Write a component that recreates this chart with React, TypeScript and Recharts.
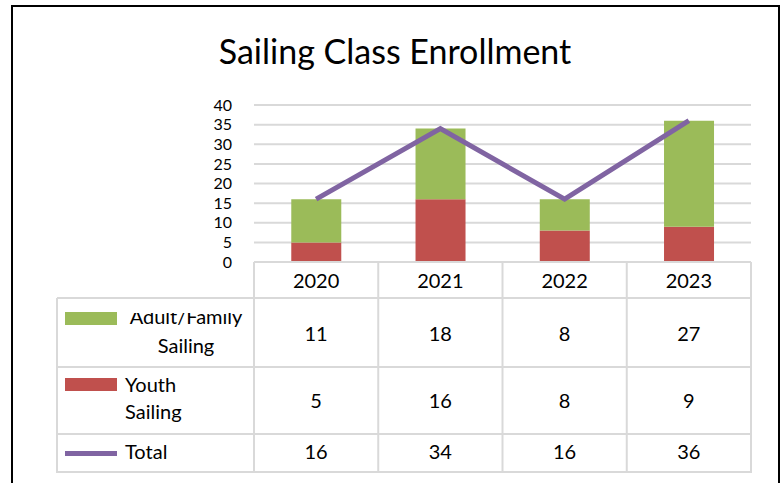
import { Bar, CartesianGrid, ComposedChart, Line, XAxis, YAxis } from 'recharts'

const years = ['2020', '2021', '2022', '2023']
const adultFamily = [11, 18, 8, 27]
const youthSailing = [5, 16, 8, 9]
const totals = [16, 34, 16, 36]
const yTicks = [0, 5, 10, 15, 20, 25, 30, 35, 40]

const data = years.map((year, i) => ({
  year,
  adult: adultFamily[i],
  youth: youthSailing[i],
  total: totals[i],
}))

const FONT = 'Lato, "Open Sans", sans-serif'
const GRID = '#D9D9D9'
const GREEN = '#9BBB59'
const RED = '#C0504D'
const PURPLE = '#8064A2'

const W = 781
const H = 483
const TABLE_LEFT = 57
// row boundaries below the axis line
const ROW_LINES = [36, 105, 172, 210]
const TEXT = { head: 26, adult: 79, youth: 146, total: 197 }

function TableColumn(props: any) {
  const { x, y, width, payload, index, visibleTicksCount } = props
  const count = visibleTicksCount || years.length
  const band = width && count ? width / count : 124.25
  const left = x - band / 2
  const right = x + band / 2
  const plotLeft = x - band / 2 - index * band
  const plotRight = plotLeft + band * count
  const bottom = y + ROW_LINES[ROW_LINES.length - 1]
  const i = years.indexOf(payload.value)
  const cell = { fontFamily: FONT, fontSize: 20, fill: '#000', textAnchor: 'middle' as const }

  return (
    <g>
      {index === 0 && (
        <g>
          <defs>
            <clipPath id="adult-clip">
              <rect x={TABLE_LEFT} y={y + 51} width={200} height={60} />
            </clipPath>
          </defs>
          <line x1={plotLeft} x2={plotRight} y1={y} y2={y} stroke={GRID} strokeWidth={2} />
          {ROW_LINES.map((r) => (
            <line key={r} x1={TABLE_LEFT} x2={plotRight} y1={y + r} y2={y + r} stroke={GRID} strokeWidth={2} />
          ))}
          <line x1={TABLE_LEFT} x2={TABLE_LEFT} y1={y + ROW_LINES[0]} y2={bottom + 1} stroke={GRID} strokeWidth={2} />
          <line x1={left} x2={left} y1={y} y2={bottom + 1} stroke={GRID} strokeWidth={2} />

          <rect x={65} y={y + 50} width={52} height={13} fill={GREEN} />
          <g clipPath="url(#adult-clip)">
            <text x={186} y={y + 62} {...cell}>Adult/Family</text>
          </g>
          <text x={186} y={y + 91} {...cell}>Sailing</text>

          <rect x={65} y={y + 116} width={52} height={13} fill={RED} />
          <text x={125} y={y + 130} {...cell} textAnchor="start">Youth</text>
          <text x={125} y={y + 157} {...cell} textAnchor="start">Sailing</text>

          <rect x={65} y={y + 189} width={52} height={5} fill={PURPLE} />
          <text x={125} y={y + 197} {...cell} textAnchor="start">Total</text>
        </g>
      )}
      <line x1={right} x2={right} y1={y} y2={bottom + 1} stroke={GRID} strokeWidth={2} />
      <text x={x} y={y + TEXT.head} {...cell}>{payload.value}</text>
      <text x={x} y={y + TEXT.adult} {...cell}>{adultFamily[i]}</text>
      <text x={x} y={y + TEXT.youth} {...cell}>{youthSailing[i]}</text>
      <text x={x} y={y + TEXT.total} {...cell}>{totals[i]}</text>
    </g>
  )
}

export default function App() {
  return (
    <div style={{ position: 'absolute', left: 0, top: 0, width: W, height: H, overflow: 'hidden', background: '#fff' }}>
      <div
        style={{
          position: 'absolute',
          left: 11,
          top: 5,
          width: 769,
          height: 560,
          boxSizing: 'border-box',
          border: '2px solid #000',
        }}
      />
      <svg width={W} height={80} style={{ position: 'absolute', left: 0, top: 0 }}>
        <text x={395} y={64} textAnchor="middle" fontFamily={FONT} fontSize={34} fill="#000">
          Sailing Class Enrollment
        </text>
      </svg>
      <div style={{ position: 'absolute', left: 0, top: 0 }}>
        <ComposedChart
          width={W}
          height={H}
          data={data}
          margin={{ top: 105, right: 30, bottom: 11, left: 194 }}
          barCategoryGap="30%"
        >
          <CartesianGrid vertical={false} stroke={GRID} strokeWidth={2} />
          <XAxis
            dataKey="year"
            height={210}
            interval={0}
            axisLine={false}
            tickLine={false}
            tickSize={0}
            tickMargin={0}
            tick={<TableColumn />}
          />
          <YAxis
            width={60}
            domain={[0, 40]}
            ticks={yTicks}
            interval={0}
            axisLine={false}
            tickLine={false}
            tickSize={0}
            tickMargin={22}
            tick={{ fontFamily: FONT, fontSize: 16, fill: '#000' }}
          />
          <Bar dataKey="youth" stackId="a" fill={RED} isAnimationActive={false} />
          <Bar dataKey="adult" stackId="a" fill={GREEN} isAnimationActive={false} />
          <Line
            type="linear"
            dataKey="total"
            stroke={PURPLE}
            strokeWidth={5}
            dot={false}
            activeDot={false}
            isAnimationActive={false}
          />
        </ComposedChart>
      </div>
    </div>
  )
}
